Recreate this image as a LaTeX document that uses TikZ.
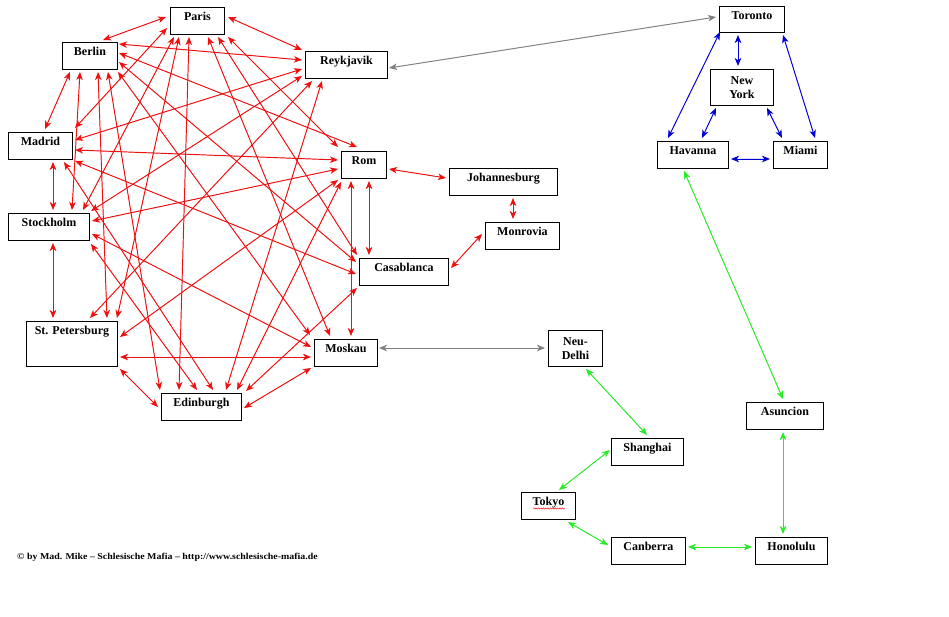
\documentclass[tikz,border=0pt]{standalone}
\usepackage{fontspec}
\setmainfont{Liberation Serif}
\usetikzlibrary{arrows.meta,decorations.pathmorphing}
\definecolor{cred}{RGB}{240,15,15}
\definecolor{cgreen}{RGB}{40,235,40}
\definecolor{cblue}{RGB}{0,0,215}
\definecolor{cgray}{RGB}{128,128,128}
\begin{document}
\begin{tikzpicture}[x=1pt,y=-1pt,
  box/.style={draw=black, line width=0.9pt, inner sep=0pt, anchor=north west,
    font=\fontsize{12}{14}\selectfont\bfseries, text height=12.8pt, text depth=14.2pt,
    minimum width=#1},
  boxtwo/.style={draw=black, line width=0.9pt, inner sep=0pt, anchor=north west,
    font=\fontsize{12}{13.5}\selectfont\bfseries, align=center,
    minimum width=#1, minimum height=36pt},
  link/.style={line width=0.95pt, {Stealth[length=8pt,width=6.5pt,inset=2.2pt]}-{Stealth[length=8pt,width=6.5pt,inset=2.2pt]}},
  er/.style={link, draw=cred, fill=cred},
  eg/.style={link, draw=cgreen, fill=cgreen},
  eb/.style={link, draw=cblue, fill=cblue},
  ey/.style={link, draw=cgray, fill=cgray}]
\fill[white] (0,0) rectangle (949,617);
\useasboundingbox (0,0) rectangle (949,617);

% boxes
\node[box=54] (paris) at (170,7) {Paris};
\node[box=55] (berlin) at (62,42) {Berlin};
\node[box=82] (reyk) at (305,51) {Reykjavik};
\node[box=64] (madrid) at (8,132) {Madrid};
\node[box=45] (rom) at (341,151) {Rom};
\node[box=108] (joh) at (449,168) {Johannesburg};
\node[box=74] (monr) at (485,222) {Monrovia};
\node[box=81] (stock) at (8,213) {Stockholm};
\node[box=89] (casa) at (359,258) {Casablanca};
\node[box=91, text depth=31.9pt] (stp) at (26,321) {St. Petersburg};
\node[box=63] (moskau) at (314,339) {Moskau};
\node[box=80] (edin) at (161,393) {Edinburgh};
\node[boxtwo=54] (delhi) at (548,330) {Neu-\\Delhi};
\node[box=65, text depth=13.2pt] (toronto) at (719,6) {Toronto};
\node[boxtwo=63] (newyork) at (710,69) {New\\York};
\node[box=71] (havanna) at (657,141) {Havanna};
\node[box=54] (miami) at (773,141) {Miami};
\node[box=77] (asun) at (746,402) {Asuncion};
\node[box=72] (shang) at (611,438) {Shanghai};
\node[box=54] (tokyo) at (521,492) {Tokyo};
\node[box=74] (canb) at (611,537) {Canberra};
\node[box=72] (hono) at (755,537) {Honolulu};

% spelling squiggle under Tokyo
\draw[cred, line width=0.5pt, decorate, decoration={snake, amplitude=0.6pt, segment length=2.4pt}]
  ([shift={(12,16.5)}]tokyo.north west) -- ([shift={(44,16.5)}]tokyo.north west);

% Paris
\draw[er] ([shift={(-4,10)}]paris.north west) -- ([shift={(41,-2)}]berlin.north west);
\draw[er] ([shift={(58,10)}]paris.north west) -- ([shift={(-3,-1)}]reyk.north west);
\draw[er] ([shift={(-3,21)}]paris.north west) -- ([shift={(67,-4)}]madrid.north west);
\draw[er] ([shift={(4,30)}]paris.north west) -- ([shift={(75,-3)}]stock.north west);
\draw[er] ([shift={(9,30)}]paris.north west) -- ([shift={(91,-3)}]stp.north west);
\draw[er] ([shift={(19,30)}]paris.north west) -- ([shift={(18,-3)}]edin.north west);
\draw[er] ([shift={(38,30)}]paris.north west) -- ([shift={(16,-3)}]moskau.north west);
\draw[er] ([shift={(48,30)}]paris.north west) -- ([shift={(-2,-3)}]casa.north west);
\draw[er] ([shift={(58,30)}]paris.north west) -- ([shift={(-3,-4)}]rom.north west);
% Berlin
\draw[er] ([shift={(57,2)}]berlin.north west) -- ([shift={(-3,9)}]reyk.north west);
\draw[er] ([shift={(57,11)}]berlin.north west) -- ([shift={(16,-4)}]rom.north west);
\draw[er] ([shift={(57,20)}]berlin.north west) -- ([shift={(-3,4)}]casa.north west);
\draw[er] ([shift={(56,30)}]berlin.north west) -- ([shift={(-4,-4)}]moskau.north west);
\draw[er] ([shift={(46,30)}]berlin.north west) -- ([shift={(-1,-3)}]edin.north west);
\draw[er] ([shift={(36,30)}]berlin.north west) -- ([shift={(81,-3)}]stp.north west);
\draw[er] ([shift={(18,30)}]berlin.north west) -- ([shift={(64,-3)}]stock.north west);
\draw[er] ([shift={(8,30)}]berlin.north west) -- ([shift={(37,-3)}]madrid.north west);
% Reykjavik
\draw[er] ([shift={(-3,18)}]reyk.north west) -- ([shift={(67,8)}]madrid.north west);
\draw[er] ([shift={(-3,25)}]reyk.north west) -- ([shift={(83,-2)}]stock.north west);
\draw[er] ([shift={(7,30)}]reyk.north west) -- ([shift={(64,-3)}]stp.north west);
\draw[er] ([shift={(17,30)}]reyk.north west) -- ([shift={(65,-3)}]edin.north west);
% Madrid
\draw[er] ([shift={(67,18)}]madrid.north west) -- ([shift={(-3,9)}]rom.north west);
\draw[er] ([shift={(67,29)}]madrid.north west) -- ([shift={(-3,16)}]casa.north west);
\draw[er] ([shift={(45,30)}]madrid.north west) -- ([shift={(45,-3)}]stock.north west);
\draw[er] ([shift={(56,30)}]madrid.north west) -- ([shift={(52,-3)}]edin.north west);
% Rom
\draw[er] ([shift={(-3,18)}]rom.north west) -- ([shift={(84,8)}]stock.north west);
\draw[er] ([shift={(-3,29)}]rom.north west) -- ([shift={(94,16)}]stp.north west);
\draw[er] ([shift={(0,31)}]rom.north west) -- ([shift={(76,-3)}]edin.north west);
\draw[er] ([shift={(10,30)}]rom.north west) -- ([shift={(37,-3)}]moskau.north west);
\draw[er] ([shift={(28,30)}]rom.north west) -- ([shift={(10,-3)}]casa.north west);
\draw[er] ([shift={(48,18)}]rom.north west) -- ([shift={(-3,10)}]joh.north west);
\draw[er] ([shift={(64,30)}]joh.north west) -- ([shift={(28,-3)}]monr.north west);
\draw[er] ([shift={(-3,12)}]monr.north west) -- ([shift={(92,10)}]casa.north west);
% Stockholm
\draw[er] ([shift={(84,21)}]stock.north west) -- ([shift={(-3,8)}]moskau.north west);
\draw[er] ([shift={(83,31)}]stock.north west) -- ([shift={(36,-3)}]edin.north west);
\draw[er] ([shift={(45,30)}]stock.north west) -- ([shift={(27,-3)}]stp.north west);
% St. Petersburg, Moskau, Casablanca
\draw[er] ([shift={(94,36)}]stp.north west) -- ([shift={(-3,18)}]moskau.north west);
\draw[er] ([shift={(94,48)}]stp.north west) -- ([shift={(-3,14)}]edin.north west);
\draw[er] ([shift={(-3,29)}]moskau.north west) -- ([shift={(83,15)}]edin.north west);
\draw[er] ([shift={(-2,30)}]casa.north west) -- ([shift={(85,-2)}]edin.north west);

% gray
\draw[ey] ([shift={(84,17)}]reyk.north west) -- ([shift={(-3,11)}]toronto.north west);
\draw[ey] ([shift={(65,9)}]moskau.north west) -- ([shift={(-3,18)}]delhi.north west);

% blue
\draw[eb] ([shift={(19,29)}]toronto.north west) -- ([shift={(28,-3)}]newyork.north west);
\draw[eb] ([shift={(1,26)}]toronto.north west) -- ([shift={(11,-3)}]havanna.north west);
\draw[eb] ([shift={(64,29)}]toronto.north west) -- ([shift={(42,-3)}]miami.north west);
\draw[eb] ([shift={(6,39)}]newyork.north west) -- ([shift={(45,-3)}]havanna.north west);
\draw[eb] ([shift={(57,39)}]newyork.north west) -- ([shift={(9,-3)}]miami.north west);
\draw[eb] ([shift={(74,18)}]havanna.north west) -- ([shift={(-3,18)}]miami.north west);

% green
\draw[eg] ([shift={(27,30)}]havanna.north west) -- ([shift={(37,-3)}]asun.north west);
\draw[eg] ([shift={(37,30)}]asun.north west) -- ([shift={(28,-3)}]hono.north west);
\draw[eg] ([shift={(-3,10)}]hono.north west) -- ([shift={(77,10)}]canb.north west);
\draw[eg] ([shift={(-3,8)}]canb.north west) -- ([shift={(47,30)}]tokyo.north west);
\draw[eg] ([shift={(38,-2)}]tokyo.north west) -- ([shift={(-1,12)}]shang.north west);
\draw[eg] ([shift={(36,-3)}]shang.north west) -- ([shift={(38,39)}]delhi.north west);

% footer
\node[anchor=base west, inner sep=0pt, font=\fontsize{9}{10}\selectfont\bfseries] (footer) at (17,559)
  {\scalebox{1.1}[1]{© by Mad. Mike – Schlesische Mafia – http://www.schlesische-mafia.de}};
\end{tikzpicture}
\end{document}
